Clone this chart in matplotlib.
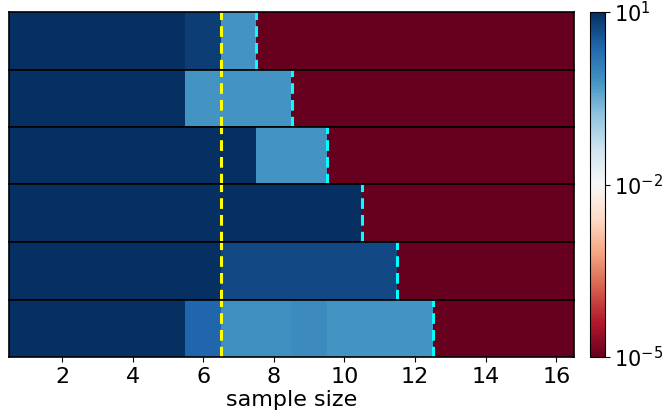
import numpy as np
import matplotlib
matplotlib.use("Agg")
import matplotlib.pyplot as plt
from matplotlib.colors import LogNorm

sample_sizes = np.arange(1, 17)
LOW = 1e-7
row1 = [20, 20, 20, 20, 20, 6.5, 0.62, LOW, LOW, LOW, LOW, LOW, LOW, LOW, LOW, LOW]
row2 = [20, 20, 20, 20, 20, 0.62, 0.62, 0.62, LOW, LOW, LOW, LOW, LOW, LOW, LOW, LOW]
row3 = [20, 20, 20, 20, 20, 20, 12, 0.62, 0.62, LOW, LOW, LOW, LOW, LOW, LOW, LOW]
row4 = [20, 20, 20, 20, 20, 9.5, 12, 12, 12, 12, LOW, LOW, LOW, LOW, LOW, LOW]
row5 = [20, 20, 20, 20, 20, 20, 5.0, 5.0, 5.0, 5.0, 5.0, LOW, LOW, LOW, LOW, LOW]
row6 = [20, 20, 20, 20, 20, 2.4, 0.68, 0.68, 0.82, 0.62, 0.62, 0.62, LOW, LOW, LOW, LOW]
rows = [row1, row2, row3, row4, row5, row6]
yellow_pos = 6.5
cyan_pos = [7.5, 8.5, 9.5, 10.5, 11.5, 12.5]
xticks = [2, 4, 6, 8, 10, 12, 14, 16]
cbar_ticks = [1e-5, 1e-2, 1e1]

W, H = 664, 418
fig = plt.figure(figsize=(W / 100, H / 100), dpi=100)
norm = LogNorm(vmin=1e-5, vmax=1e1)
px_left, px_right, px_top, px_bottom = 9, 574, 12, 357
n = len(rows)
edges = [px_top + round(i * (px_bottom - px_top) / n) for i in range(n + 1)]
im = None
for i, (r, c) in enumerate(zip(rows, cyan_pos)):
    y0, y1 = edges[i], edges[i + 1]
    ax = fig.add_axes([px_left / W, 1 - y1 / H, (px_right - px_left) / W, (y1 - y0) / H])
    im = ax.imshow(np.array(r)[np.newaxis, :], cmap='RdBu', norm=norm,
                   aspect='auto', extent=(0.5, 16.5, 0, 1), interpolation='nearest')
    ax.axvline(yellow_pos, color='yellow', ls='--', lw=2.2, dashes=(3.5, 2.0))
    ax.axvline(c, color='cyan', ls='--', lw=2.2, dashes=(3.5, 2.0))
    ax.set_xlim(0.5, 16.5)
    ax.set_yticks([])
    for s in ax.spines.values():
        s.set_linewidth(1.2)
    if i < n - 1:
        ax.set_xticks([])
    else:
        ax.set_xticks(xticks)
        ax.tick_params(axis='x', labelsize=16)
        ax.set_xlabel('sample size', fontsize=16, labelpad=2)

cax = fig.add_axes([590 / W, 1 - px_bottom / H, 15 / W, (px_bottom - px_top) / H])
cb = fig.colorbar(im, cax=cax)
cb.set_ticks(cbar_ticks)
cb.ax.minorticks_off()
cb.ax.tick_params(labelsize=15, pad=3)
fig.savefig('out.png', dpi=100)
